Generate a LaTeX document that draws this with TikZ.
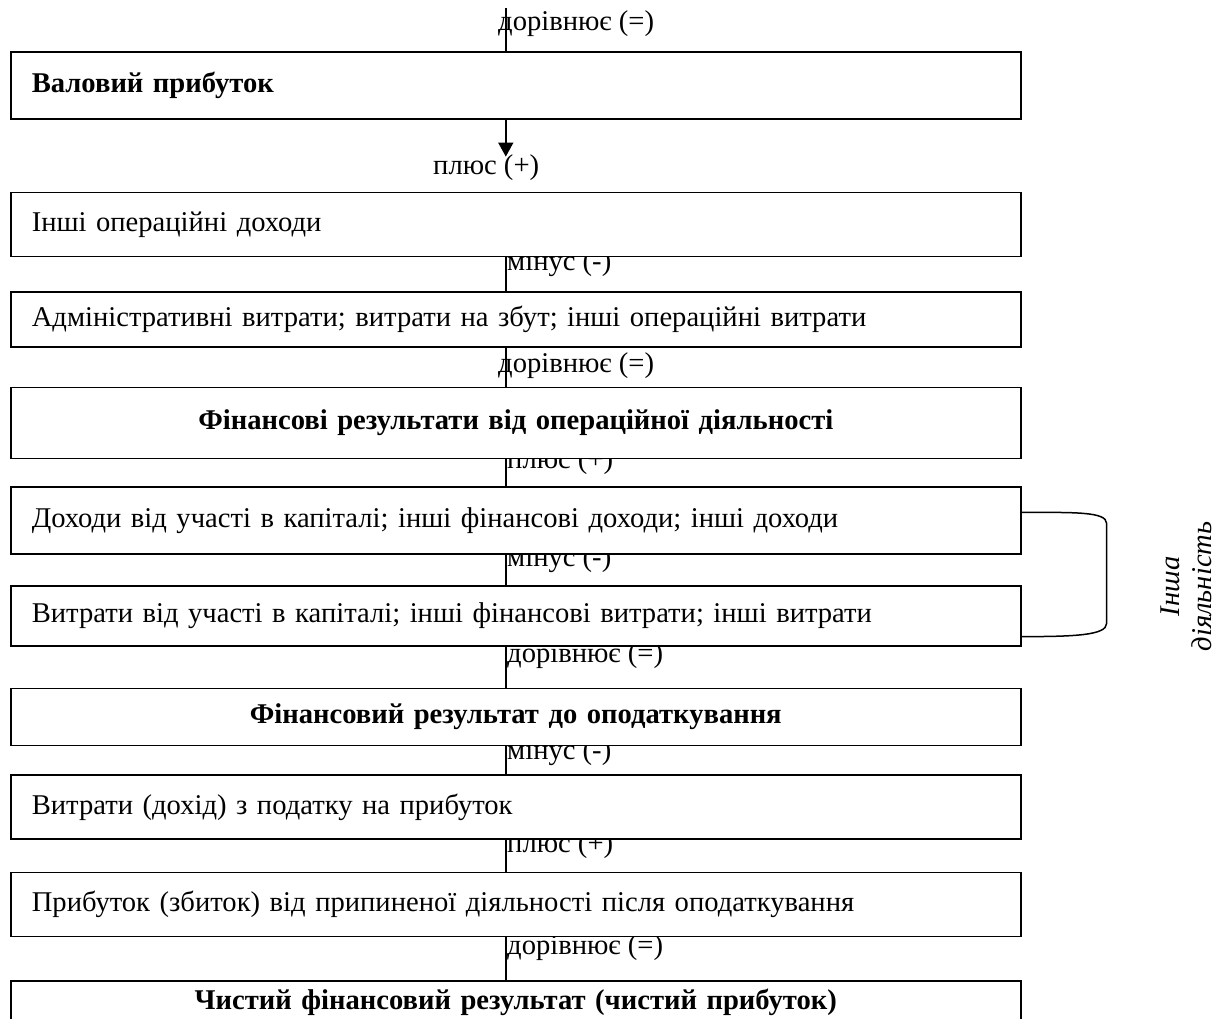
\documentclass[tikz,border=0pt]{standalone}
\usepackage{fontspec}
\setmainfont{Liberation Serif}
\usepackage{tikz}
\usetikzlibrary{arrows.meta,positioning,backgrounds}

\begin{document}
\begin{tikzpicture}[
    box/.style={rectangle, draw, line width=0.8pt, fill=white, text width=484pt, inner xsep=10.5pt, inner ysep=2pt, align=left, font=\fontsize{14.3}{17}\selectfont},
    head/.style={box, font=\fontsize{14.3}{17}\selectfont\bfseries, align=center},
    sign/.style={anchor=base west, inner sep=0pt, font=\fontsize{14.3}{17}\selectfont},
    link/.style={line width=0.75pt},
    arrow/.style={link, -{Triangle[width=7.5pt,length=7pt]}}
]
\useasboundingbox (0,0) rectangle (612pt,-509pt);

% Main chain
\node[box, font=\fontsize{14.3}{17}\selectfont\bfseries, minimum height=33.5pt, anchor=north west] (gross) at (5pt,-25.5pt) {Валовий прибуток};
\node[box, minimum height=32pt, below=36pt of gross] (opinc) {Інші операційні доходи};
\node[box, minimum height=27.5pt, below=17pt of opinc] (opexp) {Адміністративні витрати; витрати на збут; інші операційні витрати};
\node[head, minimum height=35.5pt, below=19.5pt of opexp] (opres) {Фінансові результати від операційної діяльності};
\node[box, minimum height=33.5pt, below=13.5pt of opres] (othinc) {Доходи від участі в капіталі; інші фінансові доходи; інші доходи};
\node[box, minimum height=30pt, below=15pt of othinc] (othexp) {Витрати від участі в капіталі; інші фінансові витрати; інші витрати};
\node[head, minimum height=28.5pt, below=20.5pt of othexp] (pretax) {Фінансовий результат до оподаткування};
\node[box, minimum height=32pt, below=14pt of pretax] (tax) {Витрати (дохід) з податку на прибуток};
\node[box, minimum height=32pt, below=16pt of tax] (disc) {Прибуток (збиток) від припиненої діяльності після оподаткування};
\node[head, minimum height=29pt, text depth=11pt, below=21.5pt of disc] (net) {Чистий фінансовий результат (чистий прибуток)};

\begin{scope}[on background layer]
% Signs between boxes
\node[sign] (eq0) at ([xshift=-9pt, yshift=10.5pt]gross.north) {дорівнює (=)};
\node[sign] (plus1) at ([xshift=-41.5pt, yshift=-27.5pt]gross.south) {плюс (+)};
\node[sign] (minus2) at ([xshift=-4.5pt, yshift=-6.5pt]opinc.south) {мінус (-)};
\node[sign] (eq3) at ([xshift=-9pt, yshift=-12.5pt]opexp.south) {дорівнює (=)};
\node[sign] (plus4) at ([xshift=-4.5pt, yshift=-4.5pt]opres.south) {плюс (+)};
\node[sign] (minus5) at ([xshift=-4.5pt, yshift=-5.5pt]othinc.south) {мінус (-)};
\node[sign] (eq6) at ([xshift=-4.5pt, yshift=-8pt]othexp.south) {дорівнює (=)};
\node[sign] (minus7) at ([xshift=-4.5pt, yshift=-6.5pt]pretax.south) {мінус (-)};
\node[sign] (plus8) at ([xshift=-4.5pt, yshift=-6.5pt]tax.south) {плюс (+)};
\node[sign] (eq9) at ([xshift=-4.5pt, yshift=-8.5pt]disc.south) {дорівнює (=)};

% Links
\coordinate (top) at ([xshift=-5pt, yshift=21.5pt]gross.north);
\coordinate (tip) at ([xshift=-5pt, yshift=-18.5pt]gross.south);
\draw[link] (top) -- ([xshift=-5pt]gross.north);
\draw[arrow] ([xshift=-5pt]gross.south) -- (tip);
\draw[link] ([xshift=-5pt]opinc.south) -- ([xshift=-5pt]opexp.north);
\draw[link] ([xshift=-5pt]opexp.south) -- ([xshift=-5pt]opres.north);
\draw[link] ([xshift=-5pt]opres.south) -- ([xshift=-5pt]othinc.north);
\draw[link] ([xshift=-5pt]othinc.south) -- ([xshift=-5pt]othexp.north);
\draw[link] ([xshift=-5pt]othexp.south) -- ([xshift=-5pt]pretax.north);
\draw[link] ([xshift=-5pt]pretax.south) -- ([xshift=-5pt]tax.north);
\draw[link] ([xshift=-5pt]tax.south) -- ([xshift=-5pt]disc.north);
\draw[link] ([xshift=-5pt]disc.south) -- ([xshift=-5pt]net.north);
\end{scope}

% Other activity bracket
\coordinate (brtop) at ([yshift=-13pt]othinc.north east);
\coordinate (brbot) at ([yshift=5pt]othexp.south east);
\draw[link] (brtop) to[out=0, in=90, out distance=26pt, in distance=6pt] ++(42.5pt,-5.5pt)
    -- ++(0,-50pt) to[out=-90, in=0, out distance=6pt, in distance=26pt] (brbot);
\node[rotate=90, align=center, font=\fontsize{14.3}{16}\selectfont\itshape] (other) at ([xshift=82.5pt, yshift=-50pt]othinc.north east) {Інша\\діяльність};

\end{tikzpicture}
\end{document}
